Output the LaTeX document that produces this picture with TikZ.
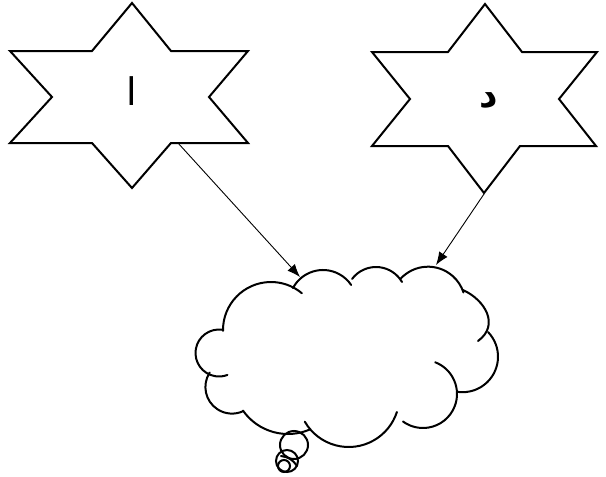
\documentclass[tikz,border=0pt]{standalone}
\usepackage{fontspec}
\usetikzlibrary{arrows.meta}
\newfontfamily\arabicfont[Script=Arabic]{DejaVu Sans}
\TeXXeTstate=1
\newcommand{\cloudarc}[5]{\draw[cloudline] ([shift={(#4:#3pt)}]#1,-#2) arc[start angle=#4,end angle=#5,radius=#3pt];}
\begin{document}
\begin{tikzpicture}[x=1pt,y=1pt,
  starline/.style={draw=black,line width=2pt,line join=miter},
  cloudline/.style={draw=black,line width=2pt,line cap=round},
  arr/.style={draw=black,line width=0.9pt,-{Latex[length=13pt,width=10pt]}},
  letter/.style={inner sep=0pt,font=\arabicfont\fontsize{38}{40}\selectfont}]
\useasboundingbox (0,0) rectangle (606,-477);
% left star
\draw[starline] (132,-3) -- (171,-51) -- (248,-51) -- (209,-97) -- (248,-143) -- (171,-143)
  -- (132,-188) -- (92,-143) -- (10,-143) -- (52,-97) -- (10,-51) -- (92,-51) -- cycle;
\node[letter,anchor=base] (alif) at (132,-105) {\beginR ا\endR};
% right star
\draw[starline] (485,-4) -- (522,-52) -- (597,-52) -- (559,-99) -- (596,-146) -- (520,-146)
  -- (484,-193) -- (448,-146) -- (372,-146) -- (410,-99) -- (372,-52) -- (448,-52) -- cycle;
\node[letter,anchor=base,font=\arabicfont\bfseries\fontsize{36}{40}\selectfont] (dal) at (489,-107) {\beginR د\endR};
% cloud
\cloudarc{271}{330}{48}{181}{50}
\cloudarc{323}{304}{34}{152}{34}
\cloudarc{376}{297}{30}{143}{30}
\cloudarc{428}{304}{37.3}{138}{18}
\draw[cloudline] (463,-290) .. controls (485,-300) and (500,-325) .. (478,-341);
\cloudarc{462.5}{356.7}{35.5}{44}{-97}
\cloudarc{423}{394}{34}{69}{-126}
\cloudarc{348.7}{396.3}{50.7}{210}{342}
\cloudarc{288}{379}{55}{215}{294}
\cloudarc{232}{387}{26.6}{147}{295}
\cloudarc{219}{353}{23.5}{81}{291}
% thought bubbles
\draw[cloudline] (294,-445) circle[radius=14pt];
\draw[cloudline] (287,-461) circle[radius=11pt];
\draw[cloudline] (284,-466) circle[radius=6pt];
\draw[cloudline] (281,-456) to[bend left=25] (297,-466);
% connectors
\coordinate (lstart) at (178,-143);
\coordinate (lend) at (300,-277);
\coordinate (rstart) at (484,-194);
\coordinate (rend) at (436,-265);
\draw[arr] (lstart) -- (lend);
\draw[arr] (rstart) -- (rend);
\end{tikzpicture}
\end{document}
